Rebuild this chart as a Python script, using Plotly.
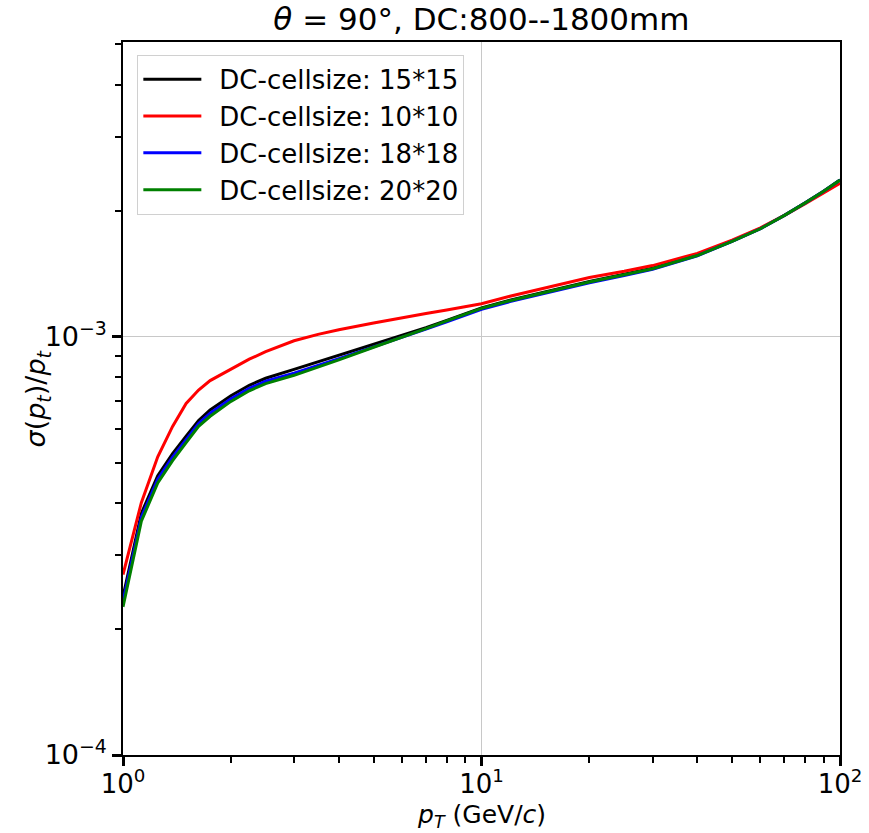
import plotly.graph_objects as go

pt = [1, 1.125, 1.25, 1.375, 1.5, 1.625, 1.75, 2.0, 2.25, 2.5, 3, 3.5, 4, 5, 6, 7, 8, 10,
      12, 15, 20, 25, 30, 40, 50, 60, 70, 80, 90, 100]

res_15 = [2.39e-4, 3.78e-4, 4.65e-4, 5.25e-4, 5.78e-4, 6.30e-4, 6.68e-4, 7.22e-4,
          7.65e-4, 7.95e-4, 8.35e-4, 8.70e-4, 9.02e-4, 9.60e-4, 1.005e-3, 1.050e-3,
          1.093e-3, 1.171e-3, 1.222e-3, 1.279e-3, 1.354e-3, 1.409e-3, 1.456e-3,
          1.566e-3, 1.692e-3, 1.813e-3, 1.950e-3, 2.089e-3, 2.226e-3, 2.368e-3]
res_10 = [2.70e-4, 4.01e-4, 5.16e-4, 6.10e-4, 6.92e-4, 7.45e-4, 7.85e-4, 8.35e-4,
          8.83e-4, 9.20e-4, 9.77e-4, 1.012e-3, 1.038e-3, 1.078e-3, 1.110e-3, 1.135e-3,
          1.157e-3, 1.198e-3, 1.248e-3, 1.306e-3, 1.384e-3, 1.432e-3, 1.478e-3,
          1.581e-3, 1.701e-3, 1.819e-3, 1.948e-3, 2.077e-3, 2.202e-3, 2.326e-3]
res_18 = [2.33e-4, 3.70e-4, 4.56e-4, 5.15e-4, 5.67e-4, 6.20e-4, 6.56e-4, 7.10e-4,
          7.52e-4, 7.82e-4, 8.18e-4, 8.52e-4, 8.85e-4, 9.45e-4, 9.95e-4, 1.042e-3,
          1.085e-3, 1.162e-3, 1.212e-3, 1.269e-3, 1.344e-3, 1.400e-3, 1.448e-3,
          1.560e-3, 1.688e-3, 1.810e-3, 1.948e-3, 2.087e-3, 2.224e-3, 2.366e-3]
res_20 = [2.26e-4, 3.62e-4, 4.47e-4, 5.05e-4, 5.58e-4, 6.10e-4, 6.45e-4, 7.00e-4,
          7.42e-4, 7.72e-4, 8.08e-4, 8.45e-4, 8.80e-4, 9.43e-4, 9.95e-4, 1.045e-3,
          1.090e-3, 1.168e-3, 1.218e-3, 1.275e-3, 1.350e-3, 1.405e-3, 1.452e-3,
          1.562e-3, 1.688e-3, 1.810e-3, 1.948e-3, 2.087e-3, 2.224e-3, 2.366e-3]

series = [
    ("DC-cellsize: 15*15", res_15, "black"),
    ("DC-cellsize: 10*10", res_10, "red"),
    ("DC-cellsize: 18*18", res_18, "blue"),
    ("DC-cellsize: 20*20", res_20, "green"),
]

x_major = [1, 10, 100]
x_major_text = ["10<sup>0</sup>", "10<sup>1</sup>", "10<sup>2</sup>"]
y_major = [1e-4, 1e-3]
y_major_text = ["10<sup>\u22124</sup>", "10<sup>\u22123</sup>"]
x_minor = [2, 3, 4, 5, 6, 7, 8, 9, 20, 30, 40, 50, 60, 70, 80, 90]
y_minor = [2e-4, 3e-4, 4e-4, 5e-4, 6e-4, 7e-4, 8e-4, 9e-4, 2e-3, 3e-3, 4e-3, 5e-3]

title_text = "<i>θ</i> = 90°, DC:800--1800mm"
x_label = "<i>p<sub>T</sub></i> (GeV/<i>c</i>)"
y_label = "<i>σ</i>(<i>p<sub>t</sub></i>)/<i>p<sub>t</sub></i>"

FONT = "DejaVu Sans"

fig = go.Figure()
for name, vals, col in series:
    fig.add_trace(go.Scatter(x=pt, y=vals, mode="lines", name="\u2002" + name,
                             line=dict(color=col, width=3)))

fig.update_layout(
    width=869, height=833,
    margin=dict(l=123, r=29, t=42, b=78),
    paper_bgcolor="white", plot_bgcolor="white",
    font=dict(family=FONT, color="black", size=26),
    title=dict(text=title_text, x=0.554, xanchor="center",
               y=0.977, yanchor="middle", font=dict(size=31, family=FONT)),
    legend=dict(x=0.02, y=0.982, xanchor="left", yanchor="top",
                bgcolor="rgba(255,255,255,0.8)", bordercolor="#d0d0d0", borderwidth=1,
                font=dict(size=26, family=FONT), itemwidth=58),
    showlegend=True,
    annotations=[
        dict(text=y_label, xref="paper", yref="paper", x=-0.1186, y=0.5,
             xanchor="center", yanchor="middle", textangle=-90, showarrow=False,
             font=dict(size=27, family=FONT)),
        dict(text=x_label, xref="paper", yref="paper", x=0.5, y=-0.109,
             xanchor="center", yanchor="bottom", showarrow=False, borderpad=0,
             font=dict(size=25, family=FONT)),
    ],
)
fig.update_xaxes(
    type="log", range=[0, 2], automargin=False,
    tickmode="array", tickvals=x_major, ticktext=x_major_text,
    tickfont=dict(size=26), ticks="outside", ticklen=9, tickwidth=2.5, tickcolor="black",
    ticklabelstandoff=-4,
    showline=True, linecolor="black", linewidth=1.5, mirror=True,
    showgrid=True, gridcolor="#c8c8c8", gridwidth=1, zeroline=False,
    minor=dict(tickmode="array", tickvals=x_minor, ticks="outside", ticklen=6,
               tickwidth=2, tickcolor="black", showgrid=False),
)
fig.update_yaxes(
    type="log", range=[-4, -2.296], automargin=False,
    tickmode="array", tickvals=y_major, ticktext=y_major_text,
    tickfont=dict(size=27), ticks="outside", ticklen=9, tickwidth=2.5, tickcolor="black",
    showline=True, linecolor="black", linewidth=1.5, mirror=True,
    showgrid=True, gridcolor="#c8c8c8", gridwidth=1, zeroline=False,
    minor=dict(tickmode="array", tickvals=y_minor, ticks="outside", ticklen=6,
               tickwidth=2, tickcolor="black", showgrid=False),
)

fig.write_html("out.html")
